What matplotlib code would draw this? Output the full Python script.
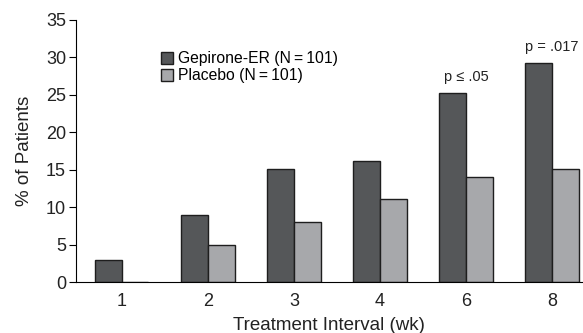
import numpy as np
import matplotlib
matplotlib.use("Agg")
import matplotlib.pyplot as plt

plt.rcParams['font.family'] = ['Liberation Sans', 'DejaVu Sans']

# data
weeks = ["1", "2", "3", "4", "6", "8"]
gepirone = [2.9, 9.0, 15.1, 16.2, 25.2, 29.3]
placebo = [0, 5.0, 8.0, 11.1, 14.0, 15.1]
pvals = {4: "p \u2264 .05", 5: "p = .017"}

fig = plt.figure(figsize=(5.83, 3.33), dpi=100)
ax = fig.add_axes([0.130, 0.153, 0.870, 0.787])

x = np.arange(len(weeks))
w = 0.31
ax.bar(x - w / 2, gepirone, w, color="#555759", edgecolor="#1e1e1e", linewidth=1.0,
       label="Gepirone-ER (N\u2009=\u2009101)")
ax.bar(x + w / 2, placebo, w, color="#a7a8ab", edgecolor="#1e1e1e", linewidth=1.0,
       label="Placebo (N\u2009=\u2009101)")

for i, txt in pvals.items():
    ax.text(x[i], gepirone[i] + 1.2, txt, ha="center", va="bottom", fontsize=10.5, color="#222")

ax.set_xlim(-0.535, 5.36)
ax.set_ylim(0, 35)
ax.set_yticks(range(0, 36, 5))
ax.set_xticks(x)
ax.set_xticklabels(weeks)
ax.tick_params(axis="x", length=0, pad=8, labelsize=13, labelcolor="#222")
ax.tick_params(axis="y", length=5, pad=2, labelsize=13, labelcolor="#222")
ax.spines["top"].set_visible(False)
ax.spines["right"].set_visible(False)
ax.set_xlabel("Treatment Interval (wk)", fontsize=13.5, labelpad=5, color="#222")
ax.set_ylabel("% of Patients", fontsize=13.5, labelpad=9, color="#222")

ax.legend(loc="upper left", bbox_to_anchor=(0.14, 0.935), frameon=False, fontsize=11.3,
          handlelength=0.8, handleheight=0.8, handletextpad=0.3, labelspacing=0.15)

fig.savefig("out.png", dpi=100)
